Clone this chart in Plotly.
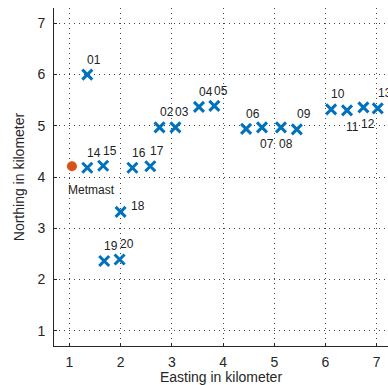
import plotly.graph_objects as go

# Turbine positions (km)
turbine_ids = ["01", "02", "03", "04", "05", "06", "07", "08", "09", "10",
               "11", "12", "13", "14", "15", "16", "17", "18", "19", "20"]
easting = [1.35, 2.76, 3.07, 3.53, 3.83, 4.45, 4.76, 5.13, 5.44, 6.11,
           6.42, 6.74, 7.02, 1.35, 1.66, 2.23, 2.58, 2.00, 1.68, 1.98]
northing = [6.00, 4.97, 4.97, 5.37, 5.39, 4.94, 4.97, 4.97, 4.93, 5.32,
            5.30, 5.36, 5.34, 4.18, 4.22, 4.18, 4.21, 3.32, 2.36, 2.39]

# Met mast position (km)
mast_name = "Metmast"
mast_easting = [1.05]
mast_northing = [4.21]

x_ticks = [1, 2, 3, 4, 5, 6, 7]
y_ticks = [1, 2, 3, 4, 5, 6, 7]

# label placement: pixel offsets (dx right, dy down)
placement = {"above": (7, -15), "below": (5, 17), "right": (17, -6)}
label_side = {"07": "below", "08": "below", "11": "below", "12": "below",
              "18": "right"}

FONT = "Liberation Sans, Arial, sans-serif"
BLUE = "#0072BD"
ORANGE = "#D95319"

fig = go.Figure()
fig.add_trace(go.Scatter(
    x=easting, y=northing, mode="markers",
    marker=dict(symbol="x-thin", size=10, color=BLUE,
                line=dict(width=3, color=BLUE)),
    hoverinfo="skip", showlegend=False, cliponaxis=False))
fig.add_trace(go.Scatter(
    x=mast_easting, y=mast_northing, mode="markers",
    marker=dict(symbol="circle", size=10, color=ORANGE),
    hoverinfo="skip", showlegend=False, cliponaxis=False))

annotations = []
for tid, xe, yn in zip(turbine_ids, easting, northing):
    dx, dy = placement[label_side.get(tid, "above")]
    annotations.append(dict(x=xe, y=yn, xref="x", yref="y", text=tid,
                            showarrow=False, xshift=dx, yshift=-dy,
                            font=dict(family=FONT, size=12, color="#222")))
annotations.append(dict(x=mast_easting[0], y=mast_northing[0], xref="x", yref="y",
                        text=mast_name, showarrow=False, xshift=20, yshift=-24,
                        font=dict(family=FONT, size=12, color="#222")))

axis_common = dict(
    showline=True, linecolor="#262626", linewidth=1,
    ticks="inside", ticklen=3, tickcolor="#262626",
    showgrid=True, gridcolor="#444444", gridwidth=1, griddash="1px,4px",
    zeroline=False, tickfont=dict(family=FONT, size=14, color="#262626"),
    mirror=False,
)

fig.update_layout(
    width=388, height=385,
    margin=dict(l=54, r=0, t=8, b=39),
    paper_bgcolor="white", plot_bgcolor="white",
    annotations=annotations,
    xaxis=dict(range=[0.7, 7.22], tickvals=x_ticks, ticklabelstandoff=3,
               title=dict(text="Easting in kilometer", standoff=6,
                          font=dict(family=FONT, size=14, color="#262626")),
               **axis_common),
    yaxis=dict(range=[0.7, 7.3], tickvals=y_ticks, ticklabelstandoff=5,
               title=dict(text="Northing in kilometer", standoff=9,
                          font=dict(family=FONT, size=14, color="#262626")),
               **axis_common),
)

fig.write_html("out.html")
